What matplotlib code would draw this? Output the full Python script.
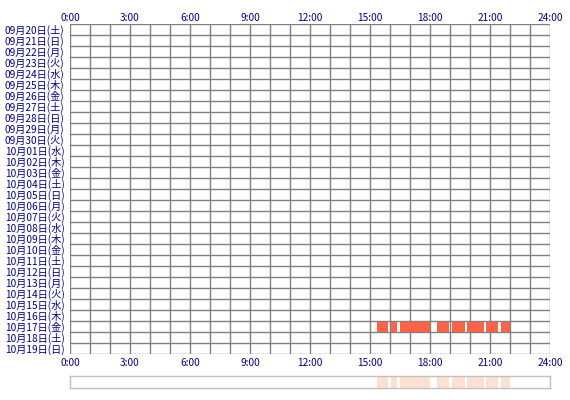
import matplotlib
matplotlib.use("Agg")
import matplotlib.pyplot as plt

plt.rcParams['font.family'] = ['Noto Sans CJK JP', 'DejaVu Sans']

# row labels (dates)
months = [9]*11 + [10]*19
days = list(range(20, 31)) + list(range(1, 20))
weekdays = ['土', '日', '月', '火', '水', '木', '金']
labels = ['%02d月%02d日(%s)' % (m, d, weekdays[i % 7]) for i, (m, d) in enumerate(zip(months, days))]

# activity on 10月17日, hours
active_row = '10月17日(金)'
seg_start = [15.33, 16.03, 16.5, 18.37, 19.1, 19.87, 20.8, 21.57]
seg_end = [15.92, 16.37, 18.0, 18.93, 19.75, 20.7, 21.4, 22.0]

hour_ticks = list(range(0, 25, 3))
hour_labels = ['%d:00' % h for h in hour_ticks]

navy = '#000080'
bar_col = '#ff6347'
light_col = '#ffe0d0'

fig = plt.figure(figsize=(5.7, 4.0), dpi=100)
ax = fig.add_axes([70/570, 1-354/400, 480/570, 330/400])
n = len(labels)
ax.set_xlim(0, 24)
ax.set_ylim(n, 0)

for h in range(25):
    ax.axvline(h, color='#808080', lw=1.0)
for r in range(n + 1):
    ax.axhline(r, color='#808080', lw=1.0)

row = labels.index(active_row)
for s, e in zip(seg_start, seg_end):
    ax.fill_between([s, e], row + 0.08, row + 1, color=bar_col, lw=0, zorder=3)

ax.set_yticks([i + 0.5 for i in range(n)])
ax.set_yticklabels(labels, color=navy, fontsize=7.3)
ax.set_xticks(hour_ticks)
ax.set_xticklabels(hour_labels, color=navy, fontsize=7.3)
ax.tick_params(axis='x', length=0, pad=3)
ax.tick_params(axis='y', length=0, pad=4)
top = ax.secondary_xaxis('top')
top.set_xticks(hour_ticks)
top.set_xticklabels(hour_labels, color=navy, fontsize=7.3)
top.tick_params(length=0, pad=1)
top.spines['top'].set_visible(False)
for sp in ax.spines.values():
    sp.set_visible(False)

# summary strip at the bottom
ax2 = fig.add_axes([70/570, 1-388/400, 480/570, 12/400])
ax2.set_xlim(0, 24)
ax2.set_ylim(0, 1)
for s, e in zip(seg_start, seg_end):
    ax2.fill_between([s, e], 0, 1, color=light_col, lw=0)
ax2.set_xticks([])
ax2.set_yticks([])
for sp in ax2.spines.values():
    sp.set_color('#c0c0c0')
    sp.set_linewidth(1.0)

fig.savefig('out.png', dpi=100)
